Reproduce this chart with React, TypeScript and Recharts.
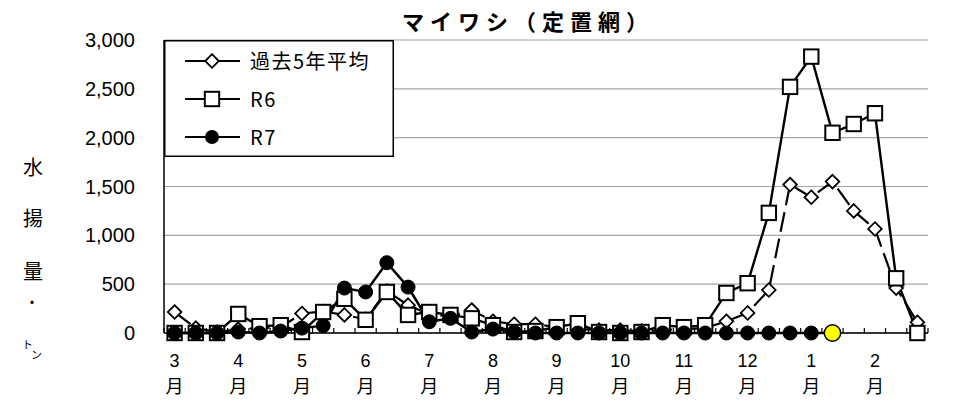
import React from 'react';
import { LineChart, Line, XAxis, YAxis, CartesianGrid, Legend } from 'recharts';

const categories = [
  '3月上旬', '3月中旬', '3月下旬', '4月上旬', '4月中旬', '4月下旬',
  '5月上旬', '5月中旬', '5月下旬', '6月上旬', '6月中旬', '6月下旬',
  '7月上旬', '7月中旬', '7月下旬', '8月上旬', '8月中旬', '8月下旬',
  '9月上旬', '9月中旬', '9月下旬', '10月上旬', '10月中旬', '10月下旬',
  '11月上旬', '11月中旬', '11月下旬', '12月上旬', '12月中旬', '12月下旬',
  '1月上旬', '1月中旬', '1月下旬', '2月上旬', '2月中旬', '2月下旬',
];
const monthTicks = ['3', '4', '5', '6', '7', '8', '9', '10', '11', '12', '1', '2'];
const avg5 = [215, 50, 10, 40, 50, 60, 200, 220, 185, 140, 430, 285, 190, 170, 235, 120, 90, 90, 60, 40, 30, 30, 20, 30, 40, 50, 120, 205, 440, 1520, 1390, 1550, 1250, 1065, 460, 110];
const r6 = [0, 0, 0, 195, 70, 80, 10, 215, 350, 135, 420, 185, 215, 185, 150, 80, 10, 20, 60, 100, 10, 0, 10, 80, 60, 80, 410, 510, 1230, 2520, 2830, 2050, 2140, 2250, 560, 0];
const r7 = [0, 0, 0, 10, 0, 20, 50, 75, 460, 420, 720, 470, 115, 150, 10, 40, 10, 0, 0, 0, 0, 0, 0, 0, 0, 0, 0, 0, 0, 0, 0, 0];
const yTicks = [0, 500, 1000, 1500, 2000, 2500, 3000];
const seriesNames = { avg: '過去5年平均', r6: 'R6', r7: 'R7' };

const data = categories.map((c, i) => ({
  cat: c,
  avg: avg5[i],
  r6: r6[i],
  r7: i < r7.length ? r7[i] : null,
}));

const W = 960;
const H = 413;
const MARGIN = { top: 40, right: 32, bottom: 50, left: 104 };
const Y_AXIS_W = 60;
const X_AXIS_H = 30;
const PLOT_W = W - MARGIN.left - Y_AXIS_W - MARGIN.right;
const BW = PLOT_W / categories.length;

const NUM_FONT = '"Liberation Sans", Arial, sans-serif';
const JP_FONT = '"Noto Sans CJK JP", "Noto Sans", sans-serif';

const diamondPath = (cx: number, cy: number, r: number) =>
  `M${cx},${cy - r}L${cx + r},${cy}L${cx},${cy + r}L${cx - r},${cy}Z`;

const DiamondDot = (props: any) => {
  const { cx, cy, index } = props;
  if (cx == null || cy == null) return <g key={`da-${index}`} />;
  return <path key={`da-${index}`} d={diamondPath(cx, cy, 6.8)} fill="#fff" stroke="#000" strokeWidth={1.8} strokeDasharray="none" />;
};

const SquareDot = (props: any) => {
  const { cx, cy, index } = props;
  if (cx == null || cy == null) return <g key={`sq-${index}`} />;
  return <rect key={`sq-${index}`} x={cx - 7.2} y={cy - 7.2} width={14.4} height={14.4} fill="#fff" stroke="#000" strokeWidth={2} />;
};

const CircleDot = (props: any) => {
  const { cx, cy, index } = props;
  if (cx == null || cy == null) return <g key={`ci-${index}`} />;
  if (index === r7.length - 1) {
    return <circle key={`ci-${index}`} cx={cx} cy={cy} r={8.2} fill="#ffff00" stroke="#000" strokeWidth={1.5} />;
  }
  return <circle key={`ci-${index}`} cx={cx} cy={cy} r={7} fill="#000" stroke="#000" strokeWidth={1} />;
};

const XTick = (props: any) => {
  const { x, y, index } = props;
  const half = BW / 2;
  const showLabel = index % 3 === 0;
  return (
    <g>
      <line x1={x - half} y1={y} x2={x - half} y2={y - 5} stroke="#000" strokeWidth={1.2} />
      {index === categories.length - 1 && (
        <line x1={x + half} y1={y} x2={x + half} y2={y - 5} stroke="#000" strokeWidth={1.2} />
      )}
      {showLabel && (
        <text x={x} y={y + 33.5} textAnchor="middle" fontFamily={NUM_FONT} fontSize={18} fill="#000">
          {monthTicks[index / 3]}
        </text>
      )}
      {showLabel && (
        <text x={x} y={y + 60} textAnchor="middle" fontFamily={JP_FONT} fontSize={18} fill="#000">
          月
        </text>
      )}
    </g>
  );
};

const YTick = (props: any) => {
  const { x, y, payload } = props;
  return (
    <text x={x - 21} y={y + 7} textAnchor="end" fontFamily={NUM_FONT} fontSize={20} fill="#000">
      {Number(payload.value).toLocaleString('en-US')}
    </text>
  );
};

const LegendMarker = ({ kind, cx, cy }: { kind: string; cx: number; cy: number }) => {
  if (kind === 'avg') return <path d={diamondPath(cx, cy, 6.8)} fill="#fff" stroke="#000" strokeWidth={1.8} />;
  if (kind === 'r6') return <rect x={cx - 7.2} y={cy - 7.2} width={14.4} height={14.4} fill="#fff" stroke="#000" strokeWidth={2} />;
  return <circle cx={cx} cy={cy} r={7} fill="#000" />;
};

const renderLegend = () => {
  const rows = ['avg', 'r6', 'r7'];
  const rowY = [21, 59, 97];
  return (
    <svg width={230} height={117} style={{ display: 'block' }}>
      <rect x={0.75} y={0.75} width={228.5} height={115.5} fill="#fff" stroke="#000" strokeWidth={1.5} />
      {rows.map((k, i) => (
        <g key={k}>
          <line x1={21} y1={rowY[i]} x2={76} y2={rowY[i]} stroke="#000" strokeWidth={2.2} />
          <LegendMarker kind={k} cx={48} cy={rowY[i]} />
          <text x={86} y={rowY[i] + 7.5} fontFamily={JP_FONT} fontSize={20} letterSpacing={1.5} fill="#000">
            {(seriesNames as any)[k]}
          </text>
        </g>
      ))}
    </svg>
  );
};

export default function App() {
  return (
    <div style={{ position: 'absolute', left: 0, top: 0, width: W, height: H, background: '#fff' }}>
      <LineChart width={W} height={H} data={data} margin={MARGIN}>
        <CartesianGrid vertical={false} stroke="#a6a6a6" strokeWidth={1.2} />
        <XAxis
          dataKey="cat"
          scale="band"
          interval={0}
          height={X_AXIS_H}
          tickLine={false}
          tickSize={0}
          tickMargin={0}
          axisLine={{ stroke: '#000', strokeWidth: 1.5 }}
          tick={<XTick />}
        />
        <YAxis
          width={Y_AXIS_W}
          domain={[0, 3000]}
          ticks={yTicks}
          interval={0}
          tickLine={false}
          axisLine={{ stroke: '#000', strokeWidth: 1.5 }}
          tick={<YTick />}
        />
        <Legend
          layout="vertical"
          verticalAlign="middle"
          align="center"
          content={renderLegend}
          wrapperStyle={{ left: 164, top: 40, width: 230, height: 117 }}
        />
        <Line
          dataKey="avg"
          name={seriesNames.avg}
          stroke="#000"
          strokeWidth={2.2}
          strokeDasharray="20 7"
          dot={DiamondDot}
          activeDot={false}
          isAnimationActive={false}
        />
        <Line
          dataKey="r6"
          name={seriesNames.r6}
          stroke="#000"
          strokeWidth={2.4}
          dot={SquareDot}
          activeDot={false}
          isAnimationActive={false}
        />
        <Line
          dataKey="r7"
          name={seriesNames.r7}
          stroke="#000"
          strokeWidth={2.5}
          dot={CircleDot}
          activeDot={false}
          isAnimationActive={false}
        />
      </LineChart>
      <svg width={W} height={H} style={{ position: 'absolute', left: 0, top: 0, pointerEvents: 'none' }}>
        <text x={402} y={30} fontFamily={JP_FONT} fontSize={22} fontWeight="bold" letterSpacing={6} fill="#000">
          マイワシ（定置網）
        </text>
        <g fontFamily={JP_FONT} fill="#000" textAnchor="middle">
          <text x={33} y={175} fontSize={20}>水</text>
          <text x={33} y={226} fontSize={20}>揚</text>
          <text x={33} y={279} fontSize={20}>量</text>
          <text x={32} y={308} fontSize={15}>・</text>
        </g>
        <g fontFamily={JP_FONT} fill="#000">
          <text x={22} y={349} fontSize={11}>ト</text>
          <text x={31} y={359} fontSize={11}>ン</text>
        </g>
      </svg>
    </div>
  );
}
